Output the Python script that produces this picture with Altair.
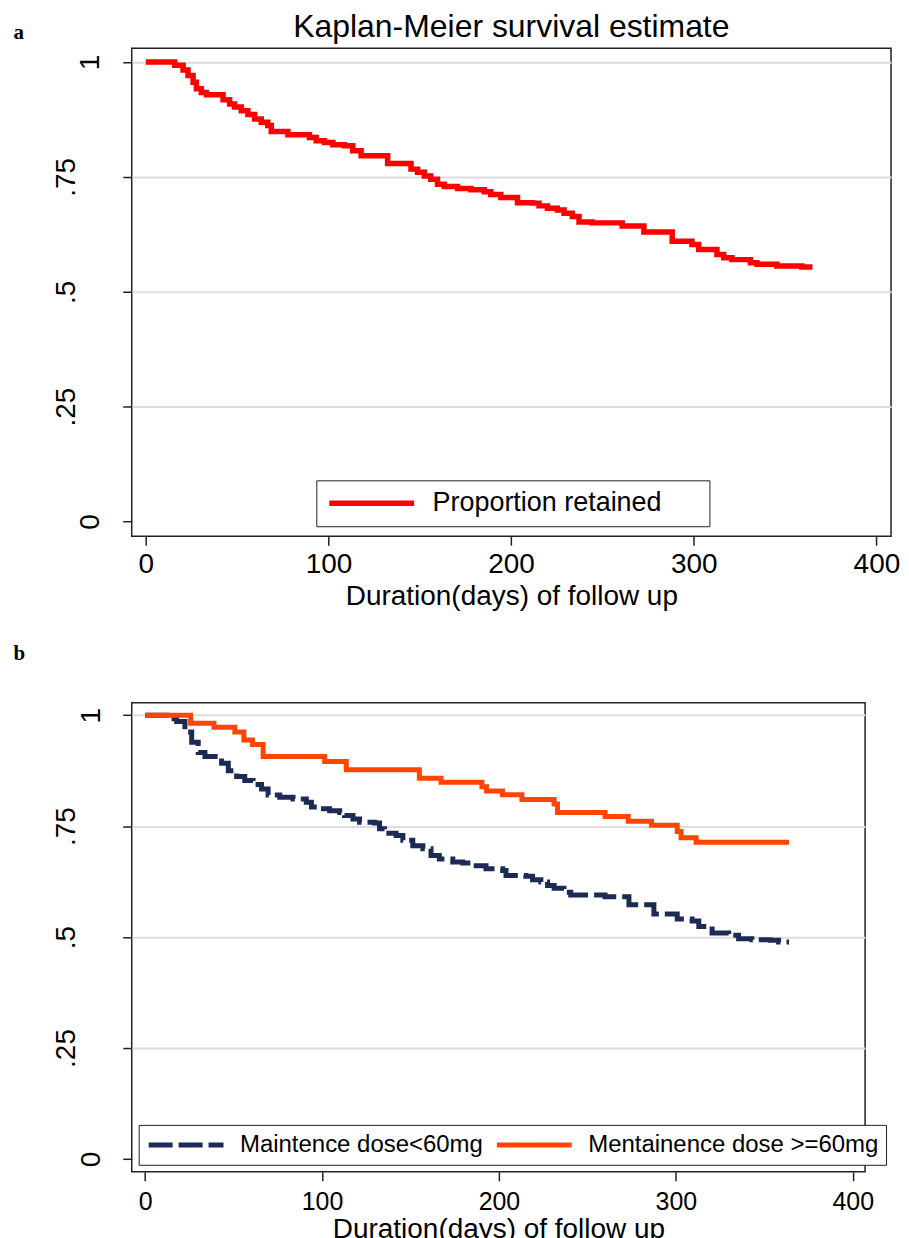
import altair as alt
import pandas as pd

# ---------------- data ----------------
# Panel a: overall Kaplan-Meier estimate
a_days = [0, 15.8, 20.4, 23.1, 25.9, 27.7, 30.4, 33.2, 42.3, 45.9, 48.6, 52.3, 55.9, 59.6,
          63.2, 66.8, 68.7, 77.8, 89.6, 93.3, 97.8, 102.4, 108.7, 113.3, 117.9, 132.4,
          145.2, 148.8, 152.5, 156, 159.7, 163.4, 170.7, 178, 185.3, 188.9, 194.4, 203.5,
          211.7, 215.3, 219.9, 225.3, 229, 233.5, 237.2, 244.4, 260.8, 272.7, 288.2, 299,
          302.7, 312.7, 316.4, 320.9, 331, 334.6, 345.5, 359.2, 365]
a_surv = [1.0, 0.993, 0.983, 0.971, 0.956, 0.942, 0.934, 0.929, 0.918, 0.909, 0.902, 0.894,
          0.886, 0.876, 0.869, 0.862, 0.849, 0.842, 0.836, 0.829, 0.825, 0.820, 0.818, 0.807,
          0.796, 0.779, 0.767, 0.760, 0.752, 0.745, 0.734, 0.729, 0.725, 0.722, 0.718, 0.712,
          0.705, 0.694, 0.693, 0.687, 0.682, 0.678, 0.671, 0.664, 0.652, 0.650, 0.643, 0.630,
          0.610, 0.603, 0.592, 0.581, 0.574, 0.570, 0.563, 0.560, 0.556, 0.554, 0.554]

# Panel b: maintenance dose < 60 mg
low_days = [0, 14, 17.8, 22.5, 26.3, 30, 33.8, 43.2, 47, 51.7, 56.3, 61, 65.8, 69.5, 76.1,
            83.6, 91.1, 94, 98.6, 104.3, 110, 112.7, 117.5, 121.2, 129.7, 132.5, 135.3,
            141.9, 145.7, 151.3, 157, 161.6, 166.3, 173.9, 179.5, 185.2, 192.7, 202.1, 204,
            215.2, 219, 223.7, 227.5, 231.2, 236.8, 240.6, 260, 273.5, 287.6, 300.8, 309.2,
            313, 320.5, 329.9, 335.5, 343, 353.4, 358.1, 364]
low_surv = [1.0, 0.992, 0.986, 0.962, 0.939, 0.916, 0.907, 0.892, 0.875, 0.862, 0.853, 0.844,
            0.834, 0.820, 0.815, 0.811, 0.804, 0.793, 0.789, 0.785, 0.781, 0.774, 0.766, 0.759,
            0.757, 0.744, 0.734, 0.729, 0.718, 0.706, 0.699, 0.684, 0.676, 0.669, 0.667, 0.661,
            0.654, 0.650, 0.639, 0.637, 0.629, 0.624, 0.616, 0.610, 0.601, 0.595, 0.591, 0.573,
            0.552, 0.541, 0.536, 0.524, 0.509, 0.504, 0.496, 0.494, 0.493, 0.489, 0.489]

# Panel b: maintenance dose >= 60 mg
high_days = [0, 25.7, 38.9, 50.7, 55.8, 60.7, 66.7, 101.5, 113.7, 155, 167.3, 190.4, 193,
             202, 213, 231.2, 233.1, 260, 273.1, 286.3, 300.8, 303, 311.5, 364]
high_surv = [1.0, 0.982, 0.973, 0.962, 0.944, 0.934, 0.907, 0.896, 0.877, 0.858, 0.849, 0.839,
             0.829, 0.821, 0.810, 0.800, 0.781, 0.772, 0.761, 0.752, 0.738, 0.724, 0.714, 0.714]

group_a = "Proportion retained"
group_low = "Maintence dose<60mg"
group_high = "Mentainence dose >=60mg"

y_ticks = [0, 0.25, 0.5, 0.75, 1]
x_ticks = [0, 100, 200, 300, 400]

FONT = "Liberation Sans"
PAD = "\u00a0" * 5 + "\u200b"

df_a = pd.DataFrame({"t": a_days, "s": a_surv, "g": group_a})
df_b = pd.concat([
    pd.DataFrame({"t": low_days, "s": low_surv, "g": group_low}),
    pd.DataFrame({"t": high_days, "s": high_surv, "g": group_high}),
], ignore_index=True)

ylab = ("datum.value == 1 ? '1' : datum.value == 0 ? '0' : "
        "datum.value == 0.75 ? '.75' : datum.value == 0.5 ? '.5' : '.25'")


def y_axis(letter, tx, ty, pad_short, pad_long):
    return alt.Axis(
        values=y_ticks, labelExpr=ylab, labelAngle=270, labelAlign="center",
        labelBaseline="bottom", labelFont=FONT, labelFontSize=28, labelColor="black",
        labelPadding={"condition": {"test": "datum.value == 0 || datum.value == 1",
                                    "value": pad_short}, "value": pad_long},
        labelOverlap=False, tickSize=9, tickWidth=1.5, tickColor="#222", domain=False,
        grid=True, gridColor="#dddddd", gridWidth=2,
        gridOpacity={"condition": {"test": "datum.value == 0", "value": 0}, "value": 1},
        title=letter, titleAngle=0, titleX=tx, titleY=ty, titleAlign="left",
        titleBaseline="alphabetic", titleFont="Liberation Serif", titleFontWeight="bold",
        titleFontSize=21, titleColor="black")


def x_axis(label_size, label_pad, title_pad):
    return alt.Axis(
        values=x_ticks, labelFont=FONT, labelFontSize=label_size, labelColor="black",
        labelPadding=label_pad, labelFlush=False, tickSize=9, tickWidth=1.5,
        tickColor="#222", domain=False, grid=False,
        title="Duration(days) of follow up", titleFont=FONT, titleFontSize=28,
        titleFontWeight="normal", titleColor="black", titlePadding=title_pad)


chart_a = alt.Chart(df_a).mark_line(interpolate="step-after", strokeWidth=5.5).encode(
    x=alt.X("t:Q", scale=alt.Scale(domain=[-7.7, 408], nice=False, zero=False),
            axis=x_axis(28, 5, 4)),
    y=alt.Y("s:Q", scale=alt.Scale(domain=[-0.032, 1.03], nice=False, zero=False),
            axis=y_axis("a", -119, -9.5, 18, 42)),
    color=alt.Color("g:N", scale=alt.Scale(domain=[group_a], range=["#ff0000"]),
                    legend=alt.Legend(
                        title=None, orient="none", legendX=185, legendY=433,
                        direction="horizontal", symbolType="M-1,0H7.5", symbolSize=400,
                        symbolStrokeWidth=5.5, labelFont=FONT, labelFontSize=27,
                        labelColor="black", labelOffset=80, padding=9.5,
                        labelExpr="datum.label + '" + PAD + "'", labelLimit=600,
                        strokeColor="#222", fillColor="white")),
).properties(
    width=761, height=489,
    title=alt.TitleParams("Kaplan-Meier survival estimate", font=FONT, fontSize=32,
                          fontWeight="normal", color="black", anchor="middle", offset=-22),
)

leg_b = alt.Legend(
    title=None, orient="none", legendX=7, legendY=423, direction="horizontal",
    symbolType="M-1,0H6.5", symbolSize=400, symbolStrokeWidth=5, labelFont=FONT,
    labelFontSize=24, labelColor="black", labelOffset=69, columnPadding=3, padding=7.5,
    labelLimit=600, strokeColor="#222", fillColor="white")

chart_b = alt.Chart(df_b).mark_line(interpolate="step-after", strokeWidth=5).encode(
    x=alt.X("t:Q", scale=alt.Scale(domain=[-7.6, 407], nice=False, zero=False),
            axis=x_axis(25, 9, 1)),
    y=alt.Y("s:Q", scale=alt.Scale(domain=[-0.029, 1.028], nice=False, zero=False),
            axis=y_axis("b", -119, -43.5, 17, 42)),
    color=alt.Color("g:N", scale=alt.Scale(domain=[group_low, group_high],
                                          range=["#1c2a56", "#ff4500"]), legend=leg_b),
    strokeDash=alt.StrokeDash("g:N", scale=alt.Scale(domain=[group_low, group_high],
                                                     range=[[24, 6], [1, 0]]),
                              legend=leg_b),
).properties(width=735, height=470)

chart = alt.concat(chart_a, chart_b, columns=1, spacing=30).properties(
    padding={"left": 4, "top": 0, "right": 0, "bottom": 0},
    background="white",
).resolve_scale(
    x="independent", y="independent", color="independent", strokeDash="independent"
).resolve_legend(
    color="independent", strokeDash="independent"
).configure_view(stroke="#222", strokeWidth=1.5)

chart.save("out.html", embed_options={"renderer": "svg", "actions": False})
